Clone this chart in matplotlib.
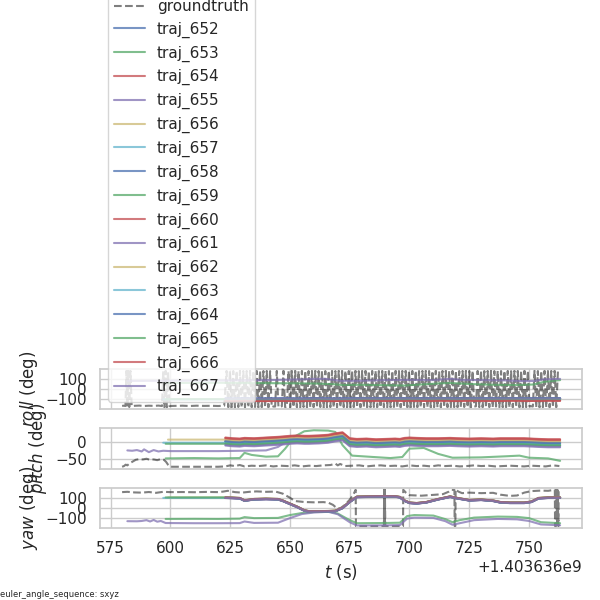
import numpy as np
import matplotlib.pyplot as plt
import seaborn as sns

sns.set_theme(context="notebook", style="whitegrid")
plt.rcParams['font.family'] = ['DejaVu Sans']

T0 = 1403636000  # timestamps are shown with offset +1.403636e9

gt_roll_start = [(579.8, -165), (580.5, -163), (581.2, -166), (581.6, 178), (582.0, -177),
                 (582.4, 179), (582.8, -176), (583.3, 178), (583.8, -168), (585, -164), (587, -162),
                 (589, -166), (591, -163), (593, -165), (595, -162), (596.5, -166), (597.0, 178),
                 (597.5, -177), (598.0, 179), (598.5, -178), (599.0, 177), (599.6, -166), (602, -165),
                 (605, -163), (608, -166), (611, -163), (614, -165), (617, -164), (620, -166),
                 (622.5, -163)]
# roll ground truth wraps around +-180 deg nearly every sample after t=623
gt_roll_dense_t = [
    623.5, 624.2, 624.9, 625.6, 626.3, 627.0, 627.7, 628.4, 629.1, 629.8,
    630.5, 631.2, 631.9, 632.6, 633.3, 634.0, 634.7, 635.4, 636.1, 636.8,
    637.5, 638.2, 638.9, 639.6, 640.3, 641.0, 641.7, 642.4, 643.1, 643.8,
    644.5, 645.2, 645.9, 646.6, 647.3, 648.0, 648.7, 649.4, 650.1, 650.8,
    651.5, 652.2, 652.9, 653.6, 654.3, 655.0, 655.7, 656.4, 657.1, 657.8,
    658.5, 659.2, 659.9, 660.6, 661.3, 662.0, 662.7, 663.4, 664.1, 664.8,
    665.5, 666.2, 666.9, 667.6, 668.3, 669.0, 669.7, 670.4, 671.1, 671.8,
    672.5, 673.2, 673.9, 674.6, 675.3, 676.0, 676.7, 677.4, 678.1, 678.8,
    679.5, 680.2, 680.9, 681.6, 682.3, 683.0, 683.7, 684.4, 685.1, 685.8,
    686.5, 687.2, 687.9, 688.6, 689.3, 690.0, 690.7, 691.4, 692.1, 692.8,
    693.5, 694.2, 694.9, 695.6, 696.3, 697.0, 697.7, 698.4, 699.1, 699.8,
    700.5, 701.2, 701.9, 702.6, 703.3, 704.0, 704.7, 705.4, 706.1, 706.8,
    707.5, 708.2, 708.9, 709.6, 710.3, 711.0, 711.7, 712.4, 713.1, 713.8,
    714.5, 715.2, 715.9, 716.6, 717.3, 718.0, 718.7, 719.4, 720.1, 720.8,
    721.5, 722.2, 722.9, 723.6, 724.3, 725.0, 725.7, 726.4, 727.1, 727.8,
    728.5, 729.2, 729.9, 730.6, 731.3, 732.0, 732.7, 733.4, 734.1, 734.8,
    735.5, 736.2, 736.9, 737.6, 738.3, 739.0, 739.7, 740.4, 741.1, 741.8,
    742.5, 743.2, 743.9, 744.6, 745.3, 746.0, 746.7, 747.4, 748.1, 748.8,
    749.5, 750.2, 750.9, 751.6, 752.3, 753.0, 753.7, 754.4, 755.1, 755.8,
    756.5, 757.2, 757.9, 758.6, 759.3, 760.0, 760.7, 761.4, 762.1, 762.7]
gt_roll_dense = [
    178, -177, 179, -178, 177, -179, 178, -176, 179, -178,
    177, -179, 178, -177, 179, -178, 177, -176, 178, -179,
    179, -178, 177, -177, 178, -179, 176, -178, -170, -172,
    178, -177, -171, -169, 179, -178, -170, 177, -179, 178,
    -177, 179, -178, 177, -179, 178, -176, 179, -178, 177,
    -179, 178, -177, 179, -178, 177, -176, 178, -179, 177,
    -178, 179, -177, 178, -179, 177, -178, 179, -176, 178,
    -177, 179, -178, 177, -179, 178, -177, 179, -178, 176,
    -179, 178, -177, 179, -178, 177, -179, 178, -176, 179,
    -178, 177, -179, 178, -177, 179, -178, 177, -179, 178,
    -176, 179, -178, 177, -179, 178, -177, 179, -178, 177,
    -179, 178, -176, 179, -178, 177, -179, 178, -177, 179,
    -178, 177, -179, 178, -177, 179, -178, 176, -179, 178,
    -177, 179, -178, 177, -179, 178, -177, 179, -178, 177,
    -179, 178, -176, 179, -178, 177, -179, 178, -171, -169,
    178, -177, 179, -178, 177, -179, 178, -177, 179, -178,
    177, -171, 178, -179, 177, -178, 179, -177, 178, -179,
    176, -178, 179, -177, 178, -179, 177, -178, 179, -177,
    178, -170, -168, -171, 179, -178, 177, -179, 178, -177,
    179, -178, 177, -179, 178, -177, 179, -178, 177, 178]

gt_pitch = [(579.8, -72), (580.6, -70), (581.3, -66), (582.0, -68), (583.0, -62), (584.0, -58),
            (585.5, -52), (587, -50), (588.5, -51), (590, -49), (591.5, -52), (593, -51),
            (594.5, -53), (596, -50), (597.3, -52), (598.2, -58), (599.0, -66), (600, -72),
            (605, -72), (610, -72), (615, -72), (620, -72), (623, -71), (625, -68), (627, -70),
            (629, -67), (631, -71), (634, -69), (637, -70), (640, -68), (643, -71), (646, -69),
            (649, -70), (652, -68), (655, -71), (658, -69), (661, -70), (664, -68), (667, -67),
            (669, -63), (670, -68), (671, -64), (673, -70), (676, -69), (679, -68), (682, -71),
            (685, -69), (688, -68), (691, -70), (694, -69), (697, -71), (700, -68), (703, -70),
            (706, -69), (709, -71), (712, -68), (715, -70), (718, -69), (721, -71), (724, -70),
            (727, -68), (730, -70), (733, -69), (736, -71), (739, -70), (742, -69), (745, -70),
            (748, -71), (751, -69), (754, -70), (757, -71), (760, -68), (762.7, -70)]

gt_yaw = [(579.8, 155), (582, 158), (585, 152), (588, 150), (591, 156), (594, 148), (597, 158),
          (600, 155), (605, 156), (610, 154), (615, 157), (620, 155), (622, 160), (624, 168),
          (627, 155), (630, 150), (633, 158), (636, 162), (640, 158), (644, 160), (647, 140),
          (650, 100), (652, 68), (656, 58), (660, 55), (664, 57), (666, 52), (668, 30),
          (669.5, 0), (671, -5), (673, 30), (675, 80), (676.5, 130), (677.5, 178), (677.6, -178),
          (683, -179), (689.3, -178), (689.4, 179), (689.6, -179), (689.7, 178), (689.9, -178),
          (697.3, -179), (697.4, 178), (698.5, 150), (700, 125), (705, 120), (710, 128),
          (714, 135), (716.5, 160), (717.5, 178), (718.8, 176), (718.9, -178), (719.2, -177),
          (719.3, 179), (720.5, 160), (722, 145), (725, 150), (730, 145), (735, 148), (738, 130),
          (742, 118), (745, 122), (748, 150), (751, 165), (755, 170), (758, 168), (760, 175),
          (760.8, 178), (760.9, -178), (761.3, -177), (761.4, 178), (761.8, -179), (761.9, 177),
          (762.3, -178), (762.4, 176), (762.7, 178)]

# common knots of the trajectories that start around t=623
t_main = [623, 626, 629, 631, 635, 640, 645, 647, 650, 653, 656, 658, 662, 666, 669, 672, 675, 678,
          682, 686, 690, 694, 696, 698, 700, 703, 707, 712, 717, 720, 725, 730, 735, 738, 742, 748,
          751, 754, 758, 763]
yaw_main = [100, 98, 95, 72, 85, 88, 85, 70, 40, 10, -25, -35, -35, -33, -30, 0, 60, 108, 110, 112,
            113, 112, 105, 70, 50, 45, 55, 85, 110, 95, 75, 80, 70, 55, 50, 50, 60, 95, 100, 100]
pitch_main = [0, -2, -3, -1, -2, 0, 2, 3, 5, 6, 5, 5, 6, 8, 12, 15, -2, -4, -3, -5,
              -4, -3, -4, -1, 0, -1, -2, -2, -1, -2, -3, -2, -3, -2, -2, -2, -3, -4, -5, -5]
roll_main = [-95, -96, -95, -94, -95, -96, -95, -94, -95, -96, -95, -94, -93, -95, -96, -95, -94,
             -93, -92, -93, -94, -92, -93, -94, -92, -93, -94, -92, -93, -94, -92, -93, -94, -93,
             -92, -93, -94, -93, -92, -93]
t_pre = [605, 612, 618]  # flat part of the early starters

traj_ids = list(range(652, 668))
traj_start = [623, 598, 623, 582, 599, 597, 623, 598, 623, 623, 623, 623, 623, 623, 623, 623]
roll_off = [0, 0, -20, 0, -3, -6, 2, -4, -18, -2, -5, -7, 3, -3, -22, 1]
pitch_off = [0, 0, 11, 0, 6, -3, 2, -6, 9, -9, 4, -2, 1, -5, 12, -11]
yaw_off = [0, 0, -2, 0, 2, -2, 1, 3, -1, -3, 2, 0, -2, 1, 3, -1]

# trajectories with their own shape
roll_653 = [(598, 60), (620, 62), (640, 58), (660, 55), (668, 48), (672, 40), (680, 42), (690, 38),
            (698, 35), (705, 45), (712, 55), (717, 60), (725, 50), (735, 42), (745, 40), (752, 45),
            (756, 70), (763, 88)]
pitch_653 = [(598, -48), (610, -47), (620, -48), (629, -47), (631, -32), (634, -38), (640, -43),
             (645, -42), (648, -20), (652, 15), (656, 30), (660, 33), (666, 32), (669, 28), (672, -10),
             (676, -40), (685, -44), (692, -47), (697, -44), (700, -20), (706, -18), (712, -35),
             (718, -46), (730, -45), (740, -42), (746, -40), (750, -46), (758, -48), (763, -55)]
yaw_653 = [(598, -108), (610, -107), (620, -108), (629, -105), (631, -90), (635, -100), (645, -98),
           (650, -70), (655, -50), (660, -40), (666, -35), (670, -55), (675, -120), (678, -150),
           (690, -148), (696, -145), (699, -80), (702, -70), (710, -75), (715, -110), (718, -140),
           (721, -120), (727, -95), (737, -85), (745, -88), (750, -100), (755, -140), (763, -150)]
roll_655 = [(582, 80), (600, 82), (623, 85), (640, 88), (655, 95), (660, 100), (665, 100), (668, 90),
            (672, 80), (680, 82), (690, 88), (700, 90), (710, 88), (717, 100), (722, 90), (730, 88),
            (740, 85), (748, 78), (752, 80), (756, 95), (763, 100)]
pitch_655 = [(582, -25), (584, -26), (586, -24), (588, -28), (589, -22), (591, -30), (593, -24),
             (595, -28), (597, -26), (600, -27), (610, -27), (620, -27), (630, -26), (640, -25),
             (645, -15), (648, -2), (655, 0), (666, 4), (669, 8), (672, 14), (675, -6), (680, -8),
             (690, -8), (700, -5), (710, -8), (720, -7), (730, -8), (740, -7), (750, -8), (763, -10)]
yaw_655 = [(582, -130), (586, -131), (588, -128), (590, -120), (591.5, -133), (593, -118),
           (594.5, -135), (596, -128), (598, -148), (610, -150), (620, -150), (629, -149),
           (631, -133), (635, -147), (645, -145), (650, -100), (655, -60), (660, -45), (666, -38),
           (670, -62), (675, -140), (678, -172), (690, -171), (696, -168), (699, -105), (702, -95),
           (710, -98), (715, -130), (718, -165), (721, -150), (727, -120), (737, -108), (745, -112),
           (750, -128), (755, -162), (763, -170)]
special = {653: (roll_653, pitch_653, yaw_653), 655: (roll_655, pitch_655, yaw_655)}

colors = ["#4C72B0", "#55A868", "#C44E52", "#8172B2", "#CCB974", "#64B5CD"]
labels = ["$roll$ (deg)", "$pitch$ (deg)", "$yaw$ (deg)"]


def unzip(pairs):
    t, v = zip(*pairs)
    return np.array(t) + T0, np.array(v)


def main_series(base, start, off, pre):
    t = list(t_main)
    v = [b + off for b in base]
    if start < 623:
        t = [start] + t_pre + t
        v = [pre + off] * 4 + v
    return np.array(t) + T0, np.array(v)


gt_roll = gt_roll_start + list(zip(gt_roll_dense_t, gt_roll_dense))

fig, axes = plt.subplots(3, 1, sharex="col", figsize=(6, 6), dpi=100)
fig.subplots_adjust(left=0.167, right=0.97, bottom=0.12, top=0.385, hspace=0.48)

for k, gt in enumerate([gt_roll, gt_pitch, gt_yaw]):
    t, v = unzip(gt)
    axes[k].plot(t, v, color="black", alpha=0.5, linestyle="--", label="groundtruth")

for i, tid in enumerate(traj_ids):
    c = colors[i % len(colors)]
    if tid in special:
        series = [unzip(p) for p in special[tid]]
    else:
        s = traj_start[i]
        series = [main_series(roll_main, s, roll_off[i], -95),
                  main_series(pitch_main, s, pitch_off[i], 0),
                  main_series(yaw_main, s, yaw_off[i], 100)]
    for k in range(3):
        t, v = series[k]
        axes[k].plot(t, v, color=c, alpha=0.75, label="traj_%d" % tid)

for k in range(3):
    axes[k].set_ylabel(labels[k])
axes[2].set_xlabel("$t$ (s)")
axes[0].legend(loc="lower left")

fig.text(0., 0.005, "euler_angle_sequence: sxyz", fontsize=6)
fig.savefig("out.png", dpi=100)
